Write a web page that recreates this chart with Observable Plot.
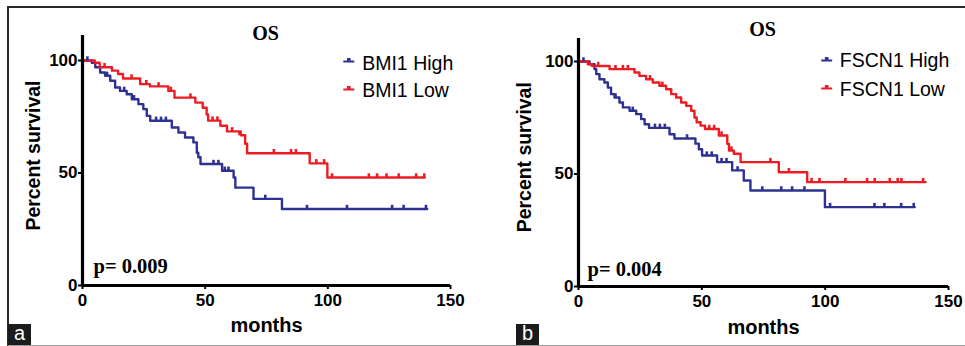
<!DOCTYPE html>
<html><head><meta charset="utf-8">
<script src="https://cdn.jsdelivr.net/npm/d3@7"></script>
<script src="https://cdn.jsdelivr.net/npm/@observablehq/plot@0.6"></script>
<style>
html,body{margin:0;padding:0;background:#fff;}
body{width:965px;height:346px;position:relative;overflow:hidden;font-family:"Liberation Sans",Arial,sans-serif;}
#frame{position:absolute;left:7px;top:6px;width:958px;height:337px;border-top:2px solid #2a2a2a;border-left:2px solid #2a2a2a;border-bottom:1px solid #9a9a9a;}
.panel{position:absolute;top:0;}
.tag{position:absolute;top:324px;width:23px;height:21px;background:#1b1b1b;color:#fff;font:20px "Liberation Sans",Arial,sans-serif;line-height:19px;text-align:center;}
</style>
</head><body>
<div id="frame"></div>
<div id="pa" class="panel" style="left:0px"></div>
<div id="pb" class="panel" style="left:480px"></div>
<div class="tag" style="left:8px">a</div>
<div class="tag" style="left:516px">b</div>
<script>
// ---------- data ----------
const xTicks = [0, 50, 100, 150];
const yTicks = [0, 50, 100];
const titles = ["OS", "OS"];
const pValues = ["p= 0.009", "p= 0.004"];
const namesA = ["BMI1 High", "BMI1 Low"];
const namesB = ["FSCN1 High", "FSCN1 Low"];
const xLabel = "months";
const yLabel = "Percent survival";

// Panel a: BMI1
const bmiHighT = [0,3.8,5.2,7.2,9.2,11.3,13.3,15.3,18,20.1,22.8,24.8,26.2,27.6,36.4,39.1,41.8,45.2,46.6,47.2,48.1,56.9,61.6,62.3,69.7,81.3,140.5];
const bmiHighS = [100,99,97,94.7,93.2,91,88,86.5,85,82.8,80.6,78.4,75.4,73.2,70.2,68,65.8,63.6,59,57,54,51,48,43.5,38.5,34,34];
const bmiHighCensT = [2,10,17,21,30,32,34,53.4,55.4,58,59.5,74.5,91.5,107.8,126.2,130.9,140];
const bmiHighCensS = [100,93.2,86.5,82.8,73.2,73.2,73.2,54,54,51,51,38.5,34,34,34,34,34];
const bmiLowT = [0,5,7,12,14.5,16.5,23.5,27.5,35,37.5,46,49,50.6,51.2,56.2,58.9,64.5,66.3,67.1,92.6,99.8,139.5];
const bmiLowS = [100,99,97,95.5,94,92,89.5,88.5,86.5,83.5,81.3,79,76,73.3,71,68.5,66.8,63,58.8,54.3,48,48];
const bmiLowCensT = [9,20,26,31,36,44,53,55,61,64,78,85,87,95.3,98.5,101.7,116.7,120.1,123.9,128.9,136,139.3];
const bmiLowCensS = [97,92,89.5,88.5,86.5,83.5,73.3,73.3,68.5,66.8,58.8,58.8,58.8,54.3,54.3,48,48,48,48,48,48,48];

// Panel b: FSCN1
const fscnHighT = [0,4.5,6.5,7.2,8.5,10.5,11.9,13.2,14.6,16.6,18,20.7,23.4,25.4,26.8,28.6,36.9,38.9,47.4,48.8,50.1,56.2,62.3,67,69.7,99.9,136.3];
const fscnHighS = [100,98.8,96.6,94.4,92.1,90.7,88.4,85.5,84,81.8,79.6,78.1,76.6,74.4,72.1,70.5,67.7,65.8,63.5,61,58.2,55.3,51.6,47.1,42.7,35.3,35.3];
const fscnHighCensT = [2,15,22,31,33,35,44,52,54,58,60,64.5,74.5,82.2,86.6,91.6,102,120,124,130.8,135.9];
const fscnHighCensS = [100,84,78.1,70.5,70.5,70.5,65.8,58.2,58.2,55.3,55.3,51.6,42.7,42.7,42.7,42.7,35.3,35.3,35.3,35.3,35.3];
const fscnLowT = [0,3.8,5.5,12.6,22.7,24.7,27.4,30.1,32.8,35.5,37.6,39.6,41.6,43.7,45.7,47,47.9,49.5,51.3,56.9,60.3,61,63,65.7,81.2,92.7,140.7];
const fscnLowS = [100,98.8,98,96.6,95.1,93.6,92.1,90.7,89.2,87.7,85.5,84,81.8,80.3,78.1,75.1,73,71.5,70,67.1,63.4,60.4,59,55.3,50.8,46.4,46.4];
const fscnLowCensT = [8,15,18,20,29,34,53,55,58,62,77.8,85.3,94.5,97.7,108.2,117,120.1,126.2,129.4,130.9,139.7];
const fscnLowCensS = [98,96.6,96.6,96.6,92.1,89.2,70,70,67.1,60.4,55.3,50.8,46.4,46.4,46.4,46.4,46.4,46.4,46.4,46.4,46.4];

// ---------- drawing ----------
const BLUE = "#2e3192", RED = "#ed1c24";
const SANS = "Liberation Sans, Arial, sans-serif";
const SERIF = "Liberation Serif, Times New Roman, serif";
const zip = (T, S) => T.map((t, i) => ({t, s: S[i]}));
const censorSym = {draw(ctx) { ctx.rect(-1.3, -4.2, 2.6, 4.2); }};
const legendSym = {draw(ctx) { ctx.moveTo(-5.5, 0); ctx.lineTo(5.5, 0); ctx.moveTo(-0.8, 0); ctx.lineTo(-0.8, -2.5); ctx.lineTo(0.8, -2.5); ctx.lineTo(0.8, 0); }};

function panel(o) {
  const svg = Plot.plot({
    width: o.width, height: 346,
    marginLeft: o.ml, marginRight: o.mr, marginTop: o.mt, marginBottom: o.mb,
    x: {domain: [0, 150]},
    y: {domain: [0, o.yMax]},
    style: {fontFamily: SANS, background: "transparent", color: "#000"},
    marks: [
      Plot.line(zip(o.hiT, o.hiS), {x: "t", y: "s", curve: "step-after", stroke: BLUE, strokeWidth: 2.4}),
      Plot.line(zip(o.loT, o.loS), {x: "t", y: "s", curve: "step-after", stroke: RED, strokeWidth: 2.4}),
      Plot.dot(zip(o.hiCT, o.hiCS), {x: "t", y: "s", symbol: censorSym, fill: BLUE, stroke: "none", r: 3}),
      Plot.dot(zip(o.loCT, o.loCS), {x: "t", y: "s", symbol: censorSym, fill: RED, stroke: "none", r: 3}),
      Plot.ruleX([0], {stroke: "#000", strokeWidth: 3.2}),
      Plot.ruleY([0], {stroke: "#000", strokeWidth: 3.2}),
      Plot.axisX({ticks: xTicks, tickSize: 4, tickPadding: 4, fontSize: 17, fontWeight: "bold", label: null, strokeWidth: 2}),
      Plot.axisY({ticks: yTicks, tickSize: 4, tickPadding: 1, fontSize: 17, fontWeight: "bold", label: null, strokeWidth: 2}),
      Plot.text([o.title], {frameAnchor: "top", dx: o.titleDx, dy: o.titleDy, lineAnchor: "bottom", textAnchor: "middle", fontFamily: SERIF, fontWeight: "bold", fontSize: 20}),
      Plot.text([o.p], {frameAnchor: "bottom-left", dx: o.pDx, dy: o.pDy, lineAnchor: "bottom", textAnchor: "start", fontFamily: SERIF, fontWeight: "bold", fontSize: 20.5}),
      Plot.text([xLabel], {frameAnchor: "bottom", dx: o.xlDx, dy: o.xlDy, lineAnchor: "middle", textAnchor: "middle", fontWeight: "bold", fontSize: 20}),
      Plot.text([yLabel], {frameAnchor: "left", dx: o.ylDx, dy: o.ylDy, rotate: -90, lineAnchor: "middle", textAnchor: "middle", fontWeight: "bold", fontSize: 21}),
      Plot.dot([o.names[0]], {frameAnchor: "top-left", dx: o.swDx, dy: o.swDy[0], symbol: legendSym, stroke: BLUE, fill: BLUE, strokeWidth: 2, r: 3}),
      Plot.dot([o.names[1]], {frameAnchor: "top-left", dx: o.swDx, dy: o.swDy[1], symbol: legendSym, stroke: RED, fill: RED, strokeWidth: 2, r: 3}),
      Plot.text([o.names[0]], {frameAnchor: "top-left", dx: o.lgDx, dy: o.lgDy[0], lineAnchor: "bottom", textAnchor: "start", fontSize: 19.5}),
      Plot.text([o.names[1]], {frameAnchor: "top-left", dx: o.lgDx, dy: o.lgDy[1], lineAnchor: "bottom", textAnchor: "start", fontSize: 19.5})
    ]
  });
  svg.querySelectorAll("text").forEach(t => {
    if (t.textContent === yLabel) { t.setAttribute("textLength", 150); t.setAttribute("lengthAdjust", "spacingAndGlyphs"); }
  });
  return svg;
}

document.getElementById("pa").append(panel({
  width: 480, ml: 82, mr: 30, mt: 35, mb: 61, yMax: 250 / 2.25,
  hiT: bmiHighT, hiS: bmiHighS, hiCT: bmiHighCensT, hiCS: bmiHighCensS,
  loT: bmiLowT, loS: bmiLowS, loCT: bmiLowCensT, loCS: bmiLowCensS,
  title: titles[0], titleDx: -1, titleDy: 4,
  p: pValues[0], pDx: 11, pDy: -13,
  xlDx: 0, xlDy: 40, ylDx: -49, ylDy: -5,
  names: namesA, swDx: 266.3, swDy: [26, 54], lgDx: 279.7, lgDy: [34, 61.7]
}));
document.getElementById("pb").append(panel({
  width: 485, ml: 98, mr: 17, mt: 38, mb: 60, yMax: 248 / 2.25,
  hiT: fscnHighT, hiS: fscnHighS, hiCT: fscnHighCensT, hiCS: fscnHighCensS,
  loT: fscnLowT, loS: fscnLowS, loCT: fscnLowCensT, loCS: fscnLowCensS,
  title: titles[1], titleDx: -1, titleDy: -3,
  p: pValues[1], pDx: 9, pDy: -11,
  xlDx: 0, xlDy: 41, ylDx: -54.7, ylDy: -5.3,
  names: namesB, swDx: 248.2, swDy: [22, 50], lgDx: 261.3, lgDy: [28.7, 57]
}));
</script>
</body></html>
